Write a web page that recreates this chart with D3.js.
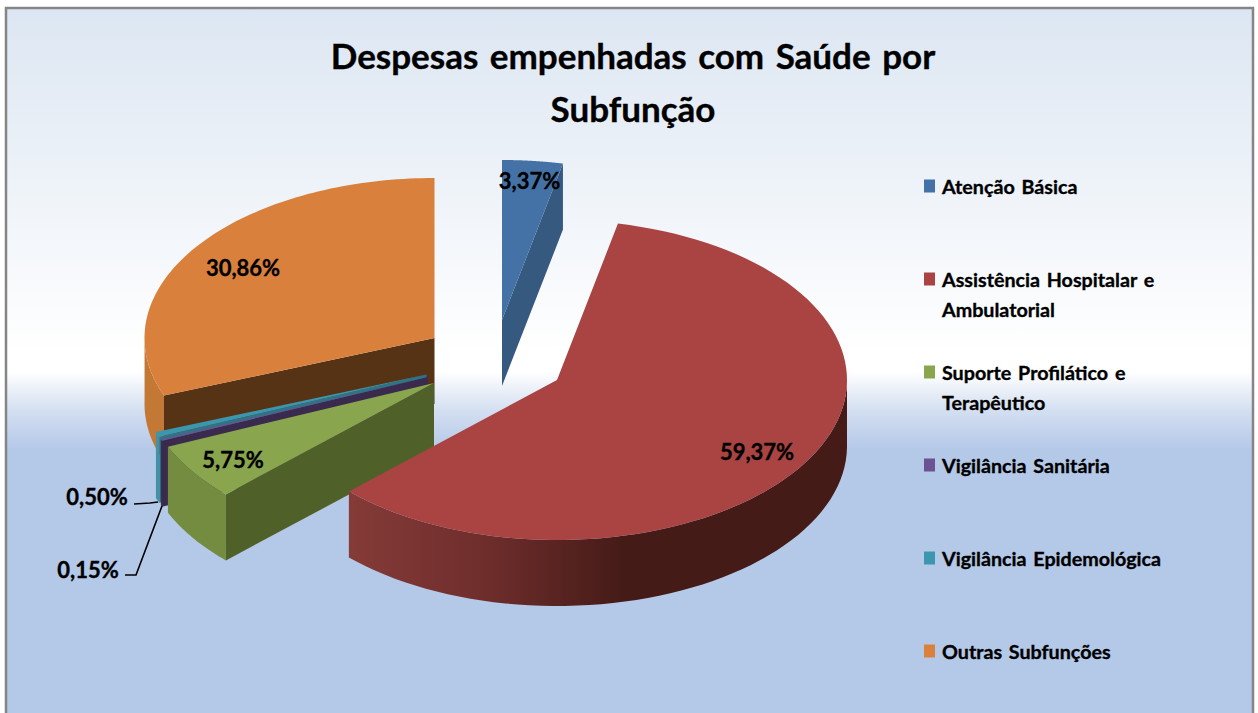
<!DOCTYPE html>
<html><head><meta charset="utf-8">
<script src="https://cdnjs.cloudflare.com/ajax/libs/d3/7.8.5/d3.min.js"></script>
<style>html,body{margin:0;padding:0;background:#fff;overflow:hidden}svg{display:block}text{font-family:Lato,sans-serif;font-weight:700;fill:#000;stroke:#000;stroke-width:0.35px}</style>
</head><body><svg id="c" width="1258" height="713"></svg>
<script>
const titleLines = ["Despesas empenhadas com Saúde por", "Subfunção"];
const categories = ["Atenção Básica", "Assistência Hospitalar e Ambulatorial", "Suporte Profilático e Terapêutico", "Vigilância Sanitária", "Vigilância Epidemológica", "Outras Subfunções"];
const legendLines = [["Atenção Básica"], ["Assistência Hospitalar e", "Ambulatorial"], ["Suporte Profilático e", "Terapêutico"], ["Vigilância Sanitária"], ["Vigilância Epidemológica"], ["Outras Subfunções"]];
const values = [3.37, 59.37, 5.75, 0.15, 0.50, 30.86];
const valueLabels = ["3,37%", "59,37%", "5,75%", "0,15%", "0,50%", "30,86%"];
const topColors = ["#4472A6", "#A94442", "#89A54E", "#6B5290", "#3C97AE", "#D9813C"];
const cutColors = ["#35597F", "#6B2B29", "#4F6129", "#392A4E", "#2F7386", "#573315"];
const wallStart = ["#35597F", "#853B38", "#748C40", "#392A4E", "#3E93A8", "#C47836"];
const wallEnd = ["#35597F", "#451B18", "#748C40", "#392A4E", "#3E93A8", "#C87A38"];

// layout
const apex = [[502,320],[557,380],[434,383],[428,377],[426.5,374.5],[434.5,338]];
const rx = 290, ry = 160, depth = 66;
const labelPos = [[529.5,180],[757,451],[233,459.5],[88,569.5],[97,496.5],[243,267]];
const legendY = [186,279,372,465,558,651];
const drawOrder = [5,4,3,2,0,1];

const svg = d3.select("#c"), defs = svg.append("defs");
const bg = defs.append("linearGradient").attr("id","bg").attr("x1",0).attr("y1",0).attr("x2",0).attr("y2",1);
[[0,"#DCE6F2"],[0.48,"#FFFFFF"],[0.505,"#FFFFFF"],[0.56,"#D3DFF1"],[0.614,"#B4C8E8"],[1,"#B4C8E8"]].forEach(s=>bg.append("stop").attr("offset",s[0]).attr("stop-color",s[1]));
svg.append("rect").attr("x",6).attr("y",8).attr("width",1247).attr("height",720).attr("fill","url(#bg)").attr("stroke","#858585").attr("stroke-width",2.5);

const arcs = d3.pie().value(d=>d).sort(null)(values);
const px = d3.scaleLinear().domain([-1,1]).range([-rx,rx]);
const py = d3.scaleLinear().domain([-1,1]).range([ry,-ry]);
const line = d3.line();
const pt = (a,i,dz=0)=>[apex[i][0]+px(Math.sin(a)), apex[i][1]+py(Math.cos(a))+dz];
const rimSamples = (a0,a1)=>d3.range(0,91).map(t=>a0+(a1-a0)*t/90);

drawOrder.forEach(i=>{
  const d = arcs[i], g = svg.append("g").attr("class","slice");
  const xs = rimSamples(d.startAngle,d.endAngle).map(a=>pt(a,i)[0]);
  const gr = defs.append("linearGradient").attr("id","w"+i).attr("gradientUnits","userSpaceOnUse")
    .attr("x1",d3.min(xs)).attr("x2",d3.max(xs)).attr("y1",0).attr("y2",0);
  gr.append("stop").attr("offset",0).attr("stop-color",wallStart[i]);
  if(i===1){gr.append("stop").attr("offset",0.28).attr("stop-color","#6E2D2B");gr.append("stop").attr("offset",0.55).attr("stop-color",wallEnd[i]);}
  gr.append("stop").attr("offset",1).attr("stop-color",wallEnd[i]);
  // outer wall: only the part of the rim that faces the viewer
  const front = rimSamples(d.startAngle,d.endAngle).filter(a=>Math.cos(a)<=0.02);
  if(front.length>1){
    const up = front.map(a=>pt(a,i)), dn = front.map(a=>pt(a,i,depth)).reverse();
    g.append("path").attr("d",line(up.concat(dn))+"Z").attr("fill",`url(#w${i})`);
  }
  // radial cut face
  if(i!==1){
    const c = pt(i===0 ? d.endAngle : d.startAngle,i), o=apex[i];
    g.append("path").attr("d",line([o,c,[c[0],c[1]+depth],[o[0],o[1]+depth]])+"Z").attr("fill",cutColors[i]);
  }
  // top face
  const rim = rimSamples(d.startAngle,d.endAngle).map(a=>pt(a,i));
  g.append("path").attr("d",line([apex[i]].concat(rim))+"Z").attr("fill",topColors[i]);
});

// leader lines
const leaders = [[[134,504],[150,503],[158,502]],[[125,575],[136,575],[162,506]]];
leaders.forEach(l=>svg.append("path").attr("d",line(l)).attr("fill","none").attr("stroke","#000").attr("stroke-width",1.6));

// data labels
valueLabels.forEach((t,i)=>svg.append("text").attr("x",labelPos[i][0]).attr("y",labelPos[i][1]).attr("text-anchor","middle").attr("dominant-baseline","central").attr("font-size",22).text(t));

// title
titleLines.forEach((t,i)=>svg.append("text").attr("x",633).attr("y",55+i*53).attr("text-anchor","middle").attr("dominant-baseline","central").attr("font-size",35).attr("word-spacing",3).text(t));

// legend
categories.forEach((c,i)=>{
  svg.append("rect").attr("x",924).attr("y",legendY[i]-6.5).attr("width",11).attr("height",13).attr("fill",topColors[i]);
  legendLines[i].forEach((t,j)=>svg.append("text").attr("x",942).attr("y",legendY[i]+j*30).attr("dominant-baseline","central").attr("font-size",19.7).attr("word-spacing",2).text(t));
});
</script></body></html>
